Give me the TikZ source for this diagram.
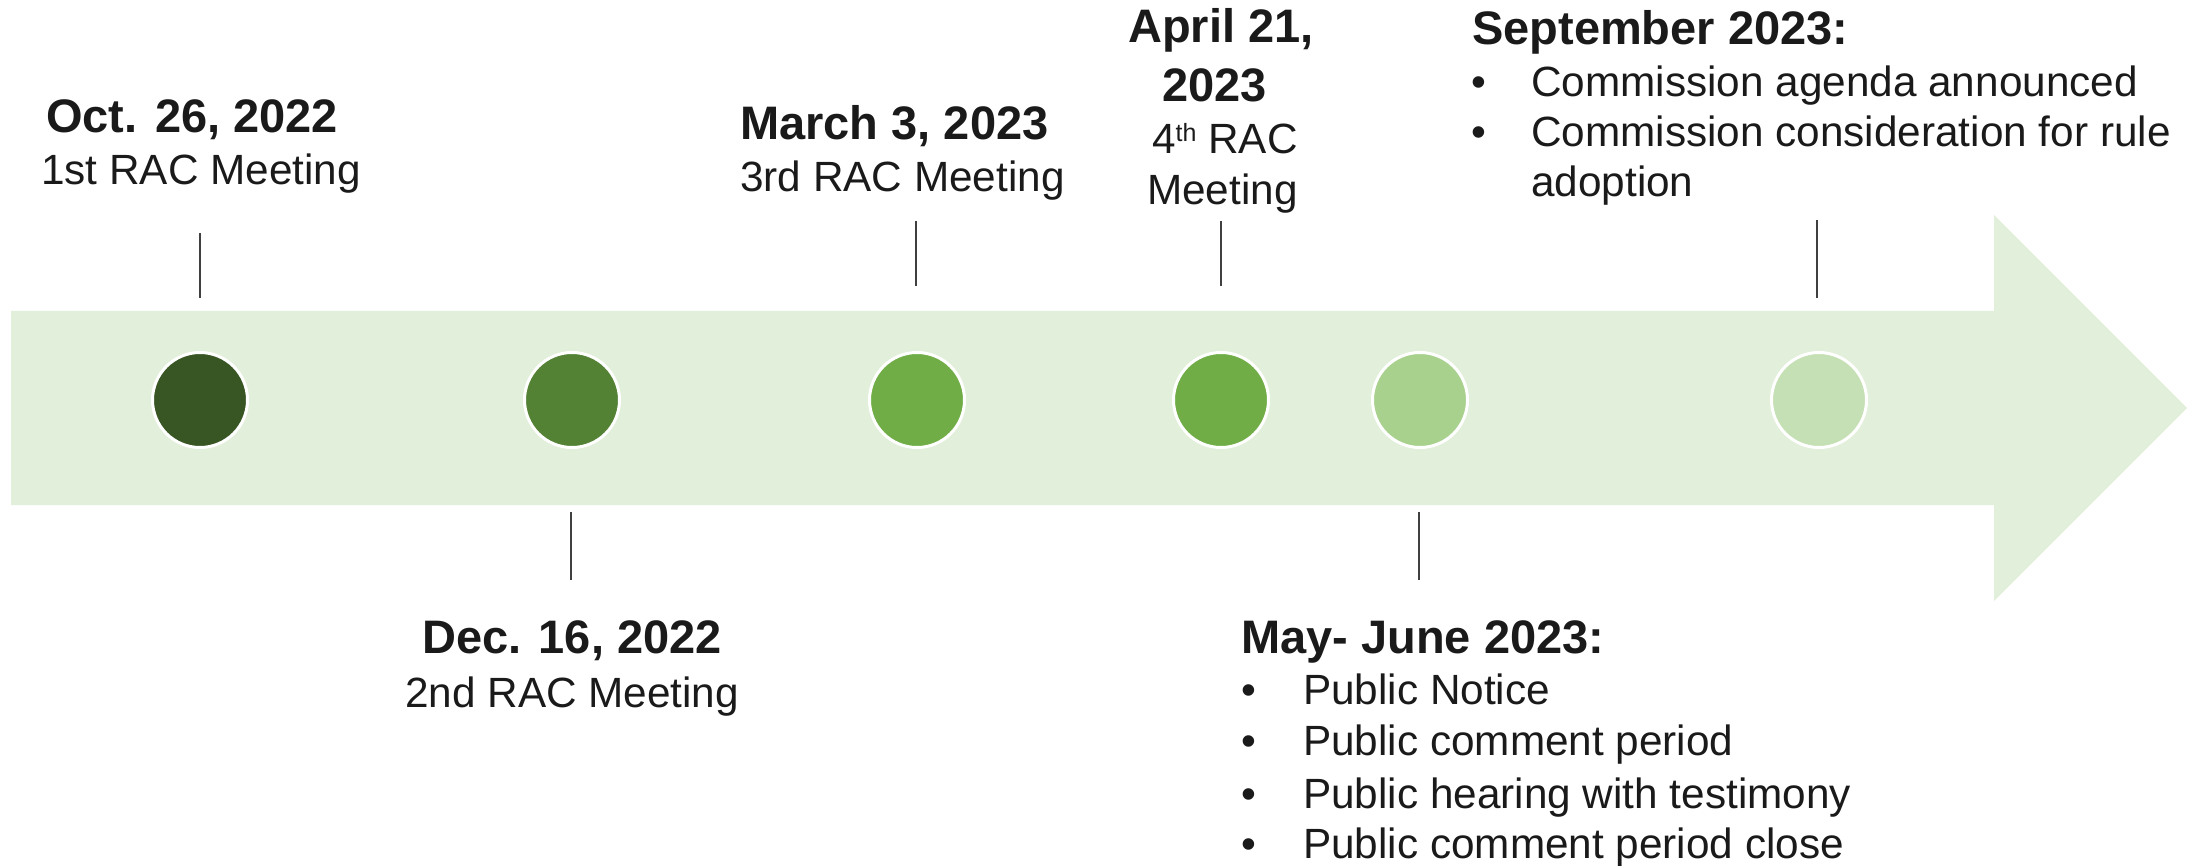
\documentclass[tikz,border=0pt]{standalone}
\usepackage{fontspec}
\setmainfont{Liberation Sans}
\definecolor{band}{HTML}{E2EFDA}
\definecolor{g1}{HTML}{375623}
\definecolor{g2}{HTML}{548235}
\definecolor{g3}{HTML}{70AD47}
\definecolor{g5}{HTML}{A9D18E}
\definecolor{g6}{HTML}{C5E0B4}
\definecolor{txt}{HTML}{1A1A1A}
\definecolor{tickc}{HTML}{404040}
\begin{document}
\begin{tikzpicture}[x=1pt,y=-1pt,
 dot/.style={circle,draw=white,line width=3pt,minimum size=95pt,inner sep=0pt},
 tickline/.style={draw=tickc,line width=1.3pt},
 hd/.style={font=\fontsize{47}{56}\selectfont\bfseries,text=txt,inner sep=0pt,anchor=base west},
 bd/.style={font=\fontsize{42.3}{50}\selectfont,text=txt,inner sep=0pt,anchor=base west}]
\useasboundingbox (0,0) rectangle (2187,866);
\fill[band] (11,311) -- (1994,311) -- (1994,215) -- (2187,408) -- (1994,601) -- (1994,505) -- (11,505) -- cycle;
% circles
\node[dot,fill=g1] (c1) at (200,400) {};
\node[dot,fill=g2] (c2) at (572,400) {};
\node[dot,fill=g3] (c3) at (917,400) {};
\node[dot,fill=g3] (c4) at (1221,400) {};
\node[dot,fill=g5] (c5) at (1420,400) {};
\node[dot,fill=g6] (c6) at (1819,400) {};
% ticks
\coordinate (t1a) at (200,233); \coordinate (t1b) at (200,298);
\coordinate (t2a) at (571,512); \coordinate (t2b) at (571,580);
\coordinate (t3a) at (916,221); \coordinate (t3b) at (916,286);
\coordinate (t4a) at (1221,221); \coordinate (t4b) at (1221,286);
\coordinate (t5a) at (1419,512); \coordinate (t5b) at (1419,580);
\coordinate (t6a) at (1817,220); \coordinate (t6b) at (1817,298);
\draw[tickline] (t1a) -- (t1b);
\draw[tickline] (t2a) -- (t2b);
\draw[tickline] (t3a) -- (t3b);
\draw[tickline] (t4a) -- (t4b);
\draw[tickline] (t5a) -- (t5b);
\draw[tickline] (t6a) -- (t6b);
% group 1
\node[hd] (h1) at (46,133) {Oct. 26, 2022};
\node[bd] (b1) at (41,185) {1st RAC Meeting};
% group 2
\node[hd] (h2) at (422,653) {Dec. 16, 2022};
\node[bd] (b2) at (405,707) {2nd RAC Meeting};
% group 3
\node[hd] (h3) at (740,140) {March 3, 2023};
\node[bd] (b3) at (740,192) {3rd RAC Meeting};
% group 4
\node[hd] (h4a) at (1128,43) {April 21,};
\node[hd] (h4b) at (1162,102) {2023};
\node[bd] (b4a) at (1152,154) {4\raisebox{12pt}{\fontsize{25}{30}\selectfont th} RAC};
\node[bd] (b4b) at (1147,205) {Meeting};
% group 6
\node[hd] (h6) at (1472,45) {September 2023:};
\node[bd] (s1b) at (1471,97) {•};
\node[bd] (s1) at (1531,97) {Commission agenda announced};
\node[bd] (s2b) at (1471,147) {•};
\node[bd] (s2) at (1531,147) {Commission consideration for rule};
\node[bd] (s3) at (1531,197) {adoption};
% group 5
\node[hd] (h5) at (1241,653) {May- June 2023:};
\node[bd] (m1b) at (1241,704) {•};
\node[bd] (m1) at (1303,704) {Public Notice};
\node[bd] (m2b) at (1241,755) {•};
\node[bd] (m2) at (1303,755) {Public comment period};
\node[bd] (m3b) at (1241,808) {•};
\node[bd] (m3) at (1303,808) {Public hearing with testimony};
\node[bd] (m4b) at (1241,858) {•};
\node[bd] (m4) at (1303,858) {Public comment period close};
\end{tikzpicture}
\end{document}
